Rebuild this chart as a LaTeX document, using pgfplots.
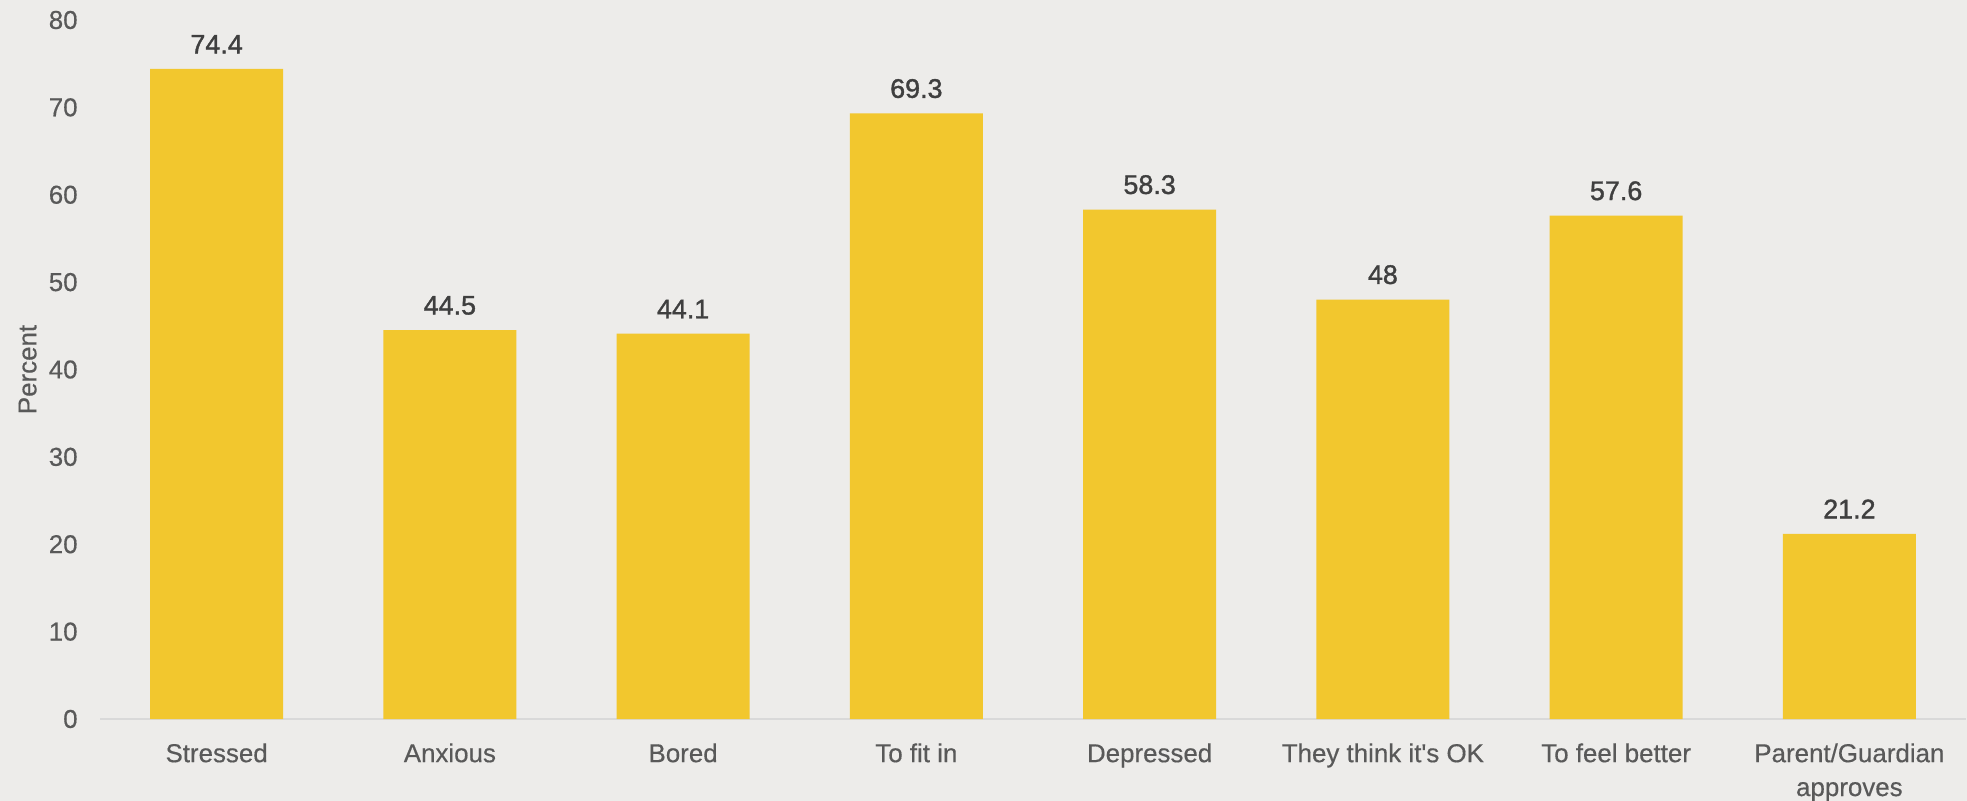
\documentclass[border=0pt]{standalone}
\usepackage{fontspec}
\setmainfont{Liberation Sans}[FakeBold=0.4]
\newfontfamily\lblfont{Liberation Sans}[FakeBold=1.3]
\usepackage{pgfplots}
\pgfplotsset{compat=1.18}
\definecolor{bg}{HTML}{EDECEA}
\definecolor{bar}{HTML}{F2C72E}
\definecolor{tick}{HTML}{595959}
\definecolor{lbl}{HTML}{3F3F3F}
\definecolor{axl}{HTML}{D9D9D9}
\begin{document}
\begin{tikzpicture}
\fill[bg] (0,0) rectangle (983.5bp,400.5bp);
\begin{axis}[
  at={(50bp,41bp)}, anchor=south west,
  scale only axis, width=933bp, height=349.5bp,
  xmin=-0.5, xmax=7.5, ymin=0, ymax=80,
  ytick={0,10,...,80},
  xtick={0,...,7},
  xticklabels={Stressed,Anxious,Bored,To fit in,Depressed,They think it\textquotesingle s OK,To feel better,{Parent/Guardian\\approves}},
  axis x line*=bottom, axis y line*=left,
  x axis line style={draw=axl, line width=1.2bp, -},
  y axis line style={draw=none},
  major tick length=0pt,
  font=\fontsize{13}{17}\selectfont,
  tick label style={font=\fontsize{13}{17}\selectfont, text=tick},
  yticklabel style={inner sep=0pt, xshift=-11bp},
  xticklabel style={inner sep=0pt, yshift=-12bp, align=center, anchor=north},
  /pgf/number format/assume math mode=true,
  ylabel={Percent},
  ylabel style={at={(axis description cs:-0.0388,0.5)}, anchor=center, text=tick, font=\fontsize{13}{17}\selectfont},
  axis background/.style={fill=bg},
  ybar, bar width=0.57,
  nodes near coords,
  every node near coord/.append style={font=\lblfont\fontsize{13.5}{17}\selectfont, text=lbl, inner sep=0pt, yshift=7.5bp, /pgf/number format/assume math mode=true},
  point meta=explicit symbolic,
  clip=false,
]
\addplot[fill=bar, draw=none] coordinates {
  (0,74.4) [74.4]
  (1,44.5) [44.5]
  (2,44.1) [44.1]
  (3,69.3) [69.3]
  (4,58.3) [58.3]
  (5,48) [48]
  (6,57.6) [57.6]
  (7,21.2) [21.2]
};
\end{axis}
\pgfresetboundingbox
\useasboundingbox (0,0) rectangle (983.5bp,400.5bp);
\end{tikzpicture}
\end{document}
